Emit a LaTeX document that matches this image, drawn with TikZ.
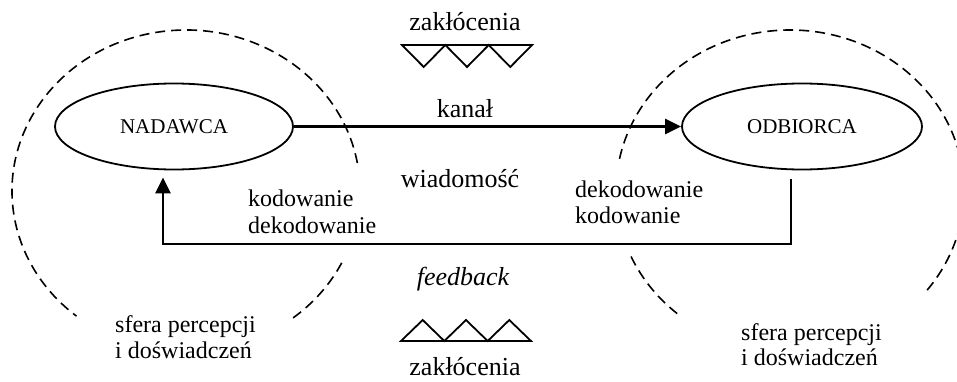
\documentclass[tikz,border=0pt]{standalone}
\usepackage{fontspec}
\setmainfont{Liberation Serif}
\usetikzlibrary{arrows.meta,shapes.geometric}
\begin{document}
\begin{tikzpicture}[x=1pt,y=1pt,
  party/.style={ellipse, draw, line width=1.8pt, minimum width=238pt,
    minimum height=86pt, inner sep=0pt, font=\fontsize{21}{24}\selectfont},
  sphere/.style={line width=1.6pt, dash pattern=on 10pt off 6pt},
  link/.style={line width=2.4pt, line join=miter,
    -{Triangle[length=16pt,width=15pt]}},
  side/.style={font=\fontsize{24}{27}\selectfont, inner sep=0pt, anchor=base west},
  mid/.style={font=\fontsize{26}{30}\selectfont, inner sep=0pt, anchor=base},
  noise/.style={line width=1.8pt, line join=miter}
]
\useasboundingbox (0,0) rectangle (957,381);
\clip (0,0) rectangle (957,381);

% spheres of perception and experience (dashed, broken around the labels)
\draw[sphere] (186,190) ++(10:174 and 161)
  arc[start angle=10, end angle=231, x radius=174, y radius=161];
\draw[sphere] (186,190) ++(-52:174 and 161)
  arc[start angle=-52, end angle=-26, x radius=174, y radius=161];
\draw[sphere] (790,190) ++(-38:174 and 161)
  arc[start angle=-38, end angle=170, x radius=174, y radius=161];
\draw[sphere] (790,190) ++(204:174 and 161)
  arc[start angle=204, end angle=231, x radius=174, y radius=161];

% sender and receiver
\node[party] (nad) at (174,254.5) {NADAWCA};
\node[party, minimum width=240pt] (odb) at (802,254.5) {ODBIORCA};

% channel
\draw[link] (nad) -- (odb);

% feedback loop
\coordinate (fbR) at (791,137);
\coordinate (fbL) at (163,137);
\draw[link, shorten <=9pt, shorten >=7pt]
  (fbR |- odb.south) -- (fbR) -- (fbL) -- (fbL |- nad.south);

% central labels
\node[mid] (noiseTop) at (465,350) {zakłócenia};
\node[mid] (chan) at (465,264) {kanał};
\node[mid] (msg) at (460,194) {wiadomość};
\node[mid, font=\fontsize{26}{30}\selectfont\itshape] (fb) at (463,96) {feedback};
\node[mid] (noiseBot) at (465,6) {zakłócenia};

% noise symbols
\draw[noise] (402,336) -- (532,336) -- (510.3,314) -- (488.7,336) -- (467,314)
  -- (445.3,336) -- (423.7,314) -- cycle;
\draw[noise] (401,40) -- (531,40) -- (509.3,61) -- (487.7,40) -- (466,61)
  -- (444.3,40) -- (422.7,61) -- cycle;

% coding labels
\node[side] (codL1) at (248,175) {kodowanie};
\node[side] (codL2) at (248,148) {dekodowanie};
\node[side] (codR1) at (575,184) {dekodowanie};
\node[side] (codR2) at (575,158) {kodowanie};

% sphere labels
\node[side] (sphL1) at (115,49) {sfera percepcji};
\node[side] (sphL2) at (115,23) {i doświadczeń};
\node[side] (sphR1) at (741,41) {sfera percepcji};
\node[side] (sphR2) at (741,16) {i doświadczeń};
\end{tikzpicture}
\end{document}
